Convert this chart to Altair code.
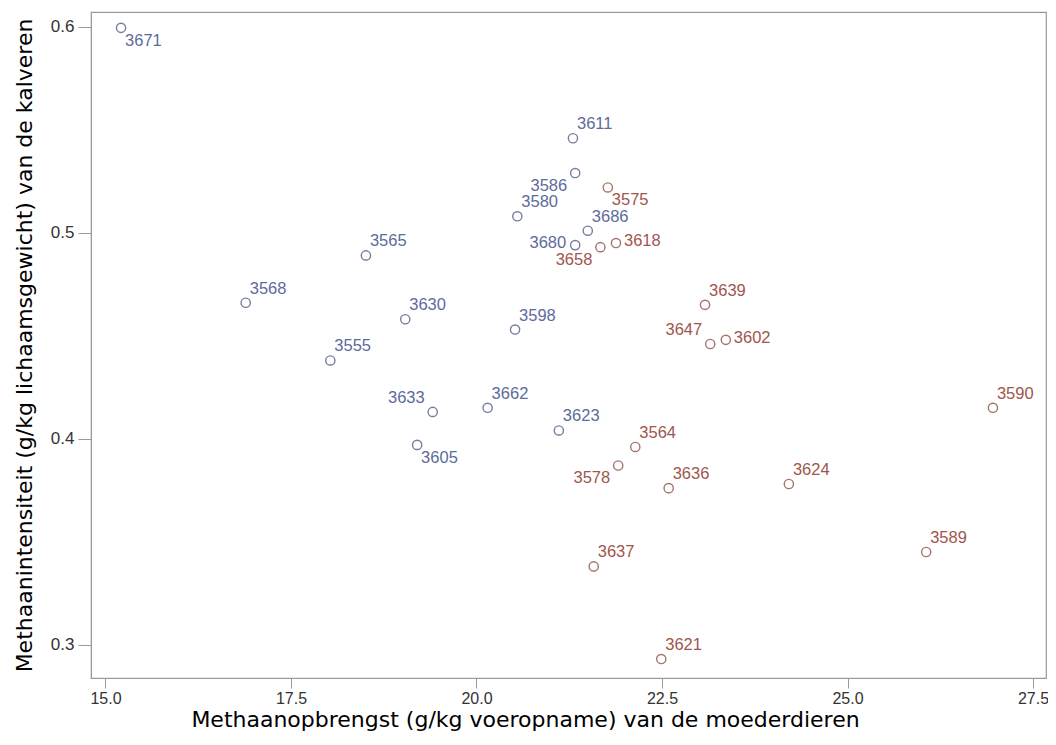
import altair as alt
import pandas as pd

ids = ["3671", "3611", "3586", "3580", "3686", "3680", "3565", "3568", "3630",
       "3598", "3555", "3633", "3662", "3623", "3605",
       "3575", "3658", "3618", "3639", "3647", "3602", "3590", "3564", "3578",
       "3636", "3624", "3589", "3637", "3621"]
methane_yield = [15.21, 21.30, 21.33, 20.55, 21.50, 21.33, 18.51, 16.89, 19.04,
                 20.52, 18.03, 19.41, 20.15, 21.11, 19.20,
                 21.77, 21.67, 21.88, 23.08, 23.15, 23.36, 26.96, 22.14, 21.91,
                 22.59, 24.21, 26.06, 21.58, 22.49]
methane_intensity = [0.5995, 0.5459, 0.529, 0.508, 0.501, 0.494, 0.489, 0.466, 0.458,
                     0.453, 0.438, 0.413, 0.415, 0.404, 0.397,
                     0.522, 0.493, 0.495, 0.465, 0.446, 0.448, 0.415, 0.396, 0.387,
                     0.376, 0.378, 0.345, 0.338, 0.293]
group = ["A"] * 15 + ["B"] * 14
label_pos = ["SE", "NE", "SW", "NE", "NE", "W", "NE", "NE", "NE",
             "NE", "NE", "NW", "NE", "NE", "SE",
             "SE", "SW", "E", "NE", "NW", "E", "NE", "NE", "SW",
             "NE", "NE", "NE", "NE", "NE"]

x_ticks = [15.0, 17.5, 20.0, 22.5, 25.0, 27.5]
y_ticks = [0.3, 0.4, 0.5, 0.6]

df = pd.DataFrame({"id": ids, "x": methane_yield, "y": methane_intensity,
                   "group": group, "pos": label_pos})

xs = alt.Scale(domain=[14.805, 27.675], nice=False, zero=False)
ys = alt.Scale(domain=[0.2838, 0.6072], nice=False, zero=False)

X = alt.X("x:Q", scale=xs, title="Methaanopbrengst (g/kg voeropname) van de moederdieren",
          axis=alt.Axis(values=x_ticks, format=".1f", grid=False, tickSize=10,
                        labelPadding=2, titlePadding=3, labelFont="Liberation Sans",
                        labelFontSize=16, labelColor="#333333", titleFont="DejaVu Sans",
                        titleFontSize=22, titleFontWeight="normal", titleColor="#000000",
                        titleX=434, titleAlign="center",
                        domainColor="#9a9a9a", tickColor="#9a9a9a"))
Y = alt.Y("y:Q", scale=ys, title="Methaanintensiteit (g/kg lichaamsgewicht) van de kalveren",
          axis=alt.Axis(values=y_ticks, format=".1f", grid=False, tickSize=13,
                        labelPadding=4, titlePadding=14, labelFont="Liberation Sans",
                        labelFontSize=17, labelColor="#333333", titleFont="DejaVu Sans",
                        titleFontSize=22, titleFontWeight="normal", titleColor="#000000",
                        domainColor="#9a9a9a", tickColor="#9a9a9a"))

pt_color = alt.Color("group:N", scale=alt.Scale(domain=["A", "B"], range=["#3d4775", "#7d3a32"]),
                     legend=None)
tx_color = alt.Color("group:N", scale=alt.Scale(domain=["A", "B"], range=["#5d6b9c", "#a0564c"]),
                     legend=None)

base = alt.Chart(df)
points = base.mark_point(shape="circle", size=85, strokeWidth=1.4, filled=False).encode(
    x=X, y=Y, color=pt_color)

offsets = {
    "NE": dict(align="left", dx=4, dy=-14),
    "SE": dict(align="left", dx=4, dy=13),
    "SW": dict(align="right", dx=-8, dy=13),
    "NW": dict(align="right", dx=-8, dy=-14),
    "E": dict(align="left", dx=8, dy=-2),
    "W": dict(align="right", dx=-9, dy=-2),
}
layers = [points]
for p, o in offsets.items():
    layers.append(
        base.transform_filter(alt.datum.pos == p).mark_text(
            font="Liberation Sans", fontSize=16.5, baseline="middle", **o
        ).encode(x=alt.X("x:Q", scale=xs), y=alt.Y("y:Q", scale=ys), text="id:N",
                 color=tx_color)
    )

chart = alt.layer(*layers).resolve_scale(color="independent").properties(
    width=955, height=666,
    autosize=alt.AutoSizeParams(type="none"),
    padding={"left": 83, "top": 4, "right": 2, "bottom": 57},
).configure_view(stroke="#9a9a9a", strokeWidth=1.2)

chart.save("out.html", embed_options={"renderer": "svg", "actions": False})
